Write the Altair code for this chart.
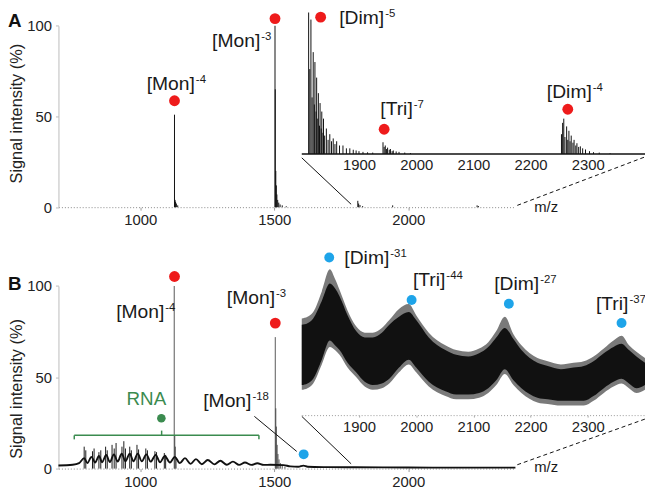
import altair as alt
import pandas as pd

FONT = "Liberation Sans"
RED = "#ee1b1b"
BLUE = "#1ea4e9"
GREEN = "#3b8b4f"
INK = "#111111"

# ---------------- data ----------------
# Panel A, main spectrum (m/z, %)
A_MZ = [1128, 1130, 1132, 1135, 1140, 1503, 1504, 1506, 1508, 1510, 1513, 1517, 1522, 1530, 1545,
        1812, 1815, 1820, 1830, 1942, 2257, 2262]
A_INT = [51, 4, 3, 2, 1, 100, 65, 20, 12, 7, 4, 2.5, 1.5, 1, 0.5,
         3.5, 2, 1.2, 0.6, 1, 1, 0.6]

# Panel A, inset spectrum
AI_MZ = [1812, 1814, 1816, 1818, 1820, 1822, 1823, 1825, 1826, 1828,
         1829, 1831, 1832, 1834, 1835, 1837, 1838, 1840, 1843, 1846,
         1849, 1852, 1855, 1858, 1861, 1866, 1872, 1878, 1884, 1890,
         1895, 1900, 1907, 1915, 1924,
         1942, 1944, 1946, 1948, 1950, 1953, 1955, 1958, 1960, 1965, 1970, 1980, 1990,
         2254, 2256, 2258, 2260, 2263, 2265, 2267, 2269, 2271, 2274,
         2276, 2279, 2281, 2284, 2287, 2291, 2296, 2303, 2310, 2320, 2339]
AI_INT = [100, 60, 95, 40, 72, 35, 65, 30, 54, 25,
          43, 20, 36, 18, 30, 15, 25, 13, 18, 10,
          14, 9, 11, 7, 9, 6, 6, 4, 4, 3,
          2.5, 2, 1.5, 1.2, 1,
          8.3, 5, 6, 3.5, 4.5, 3, 3.5, 2, 2.5, 1.8, 1.5, 1, 0.7,
          14, 22, 25, 12, 19.5, 10, 16.4, 9, 13, 8,
          10, 6, 7.6, 5, 5.4, 4, 3.2, 2, 1.3, 1, 0.5]

# Panel A annotations
A_DOT_MZ = [1128, 1503]
A_DOT_Y = [58.7, 104]
AI_DOT_MZ = [1833, 1944, 2265]
AI_DOT_Y = [96.7, 17.5, 31.6]
A_LAB = ["[Mon]", "[Mon]"]
A_SUP = ["-4", "-3"]
A_LAB_MZ = [1204, 1448]
A_LAB_Y = [64.4, 88.5]
AI_LAB = ["[Dim]", "[Tri]", "[Dim]"]
AI_SUP = ["-5", "-7", "-4"]
AI_LAB_MZ = [1944, 1994, 2307]
AI_LAB_Y = [92, 27.5, 39.6]
# zoom connector segments (main-A coords): x1, y1, x2, y2
A_CON_SOLID = [1603, 27.2, 1787, 1.6]
A_CON_DASH = [2407, 1.0, 2883, 27.7]

# Panel B, main spectrum
B_LAD_MZ = [695, 748, 772, 791, 803, 818, 832, 846, 858, 873,
            887, 902, 916, 931, 945, 961, 975, 991, 1006, 1023,
            1039, 1058, 1074, 1092, 1111, 1129, 1148, 1167, 1188, 1208,
            1230, 1252, 1277, 1299, 1323, 1346, 1369, 1391, 1415, 1437,
            1461, 1486, 1535, 1560, 1590, 1609, 1625, 1700, 1800, 2000,
            2200, 2400]
B_LAD_INT = [1.7, 2.1, 3.0, 5.7, 3.0, 6.4, 3.3, 6.9, 3.5, 7.5,
             3.6, 7.8, 3.8, 8.2, 4.0, 8.2, 4.0, 8.2, 4.0, 7.8,
             3.8, 7.5, 3.5, 6.9, 3.3, 6.4, 3.0, 5.7, 2.6, 5.2,
             2.4, 4.7, 2.3, 4.3, 2.1, 3.8, 2.0, 3.3, 2.0, 2.9,
             2.0, 2.1, 1.9, 1.2, 1.0, 1.6, 1.0, 0.8, 0.7, 0.6,
             0.5, 0.5]
B_SPK_MZ = [791, 797, 822, 828, 846, 853, 871, 877, 895, 903, 910, 932,
            939, 945, 961, 967, 988, 994, 1021, 1027, 1055, 1061, 1090, 1095]
B_SPK_INT = [12, 10, 9.5, 11, 9, 10, 12, 10, 13, 11, 14, 12,
             15, 11, 12, 10, 13, 10.5, 11, 10, 9.5, 9, 8.5, 7.5]
B_PK_MZ = [1127, 1129, 1131, 1134, 1504, 1506, 1508, 1511, 1514, 1518, 1523, 1530, 1540]
B_PK_INT = [100, 18, 12, 6, 72, 33, 23, 13, 8, 5, 3, 2, 1]

# Panel B, inset envelope of the unresolved signal
BI_MZ = [1800, 1810, 1820, 1835, 1849, 1858, 1866, 1880, 1895, 1910,
         1924, 1940, 1953, 1970, 1987, 2000, 2022, 2051, 2070, 2091,
         2110, 2126, 2140, 2155, 2170, 2184, 2212, 2230, 2253, 2275,
         2293, 2310, 2328, 2345, 2359, 2372, 2385, 2400]
BI_TOP = [57, 58, 61, 72, 83, 80, 75, 63, 53, 49,
          49, 52, 57, 62, 65, 60, 49, 41, 38, 37,
          39, 43, 49, 55, 48, 41, 33, 31, 29, 30,
          31, 34, 39, 43, 45, 41, 37, 33]
BI_BOT = [19, 20, 23, 35, 47, 44, 41, 33, 27, 21,
          19, 20, 23, 30, 35, 30, 21, 15, 13, 13,
          14, 17, 22, 29, 22, 17, 11, 10, 9, 9,
          9, 12, 17, 21, 23, 20, 17, 19]
BI_OTOP = [61, 62, 65, 78, 92, 86, 79, 66, 56, 52,
           52, 55, 60, 67, 70, 63, 52, 44, 41, 40,
           42, 46, 53, 62, 51, 44, 36, 34, 32, 33,
           34, 37, 42, 47, 50, 44, 40, 36]
BI_OBOT = [16, 17, 20, 32, 43, 41, 38, 30, 24, 18,
           16, 17, 20, 27, 32, 27, 18, 12, 10, 10,
           11, 14, 19, 26, 19, 14, 8, 7, 6, 6,
           6, 9, 14, 18, 20, 17, 14, 16]

# Panel B annotations
B_RED_MZ = [1128, 1504]
B_RED_Y = [105.2, 79.7]
B_BLUE_MZ = [1610]
B_BLUE_Y = [7.8]
B_GREEN_MZ = [1079]
B_GREEN_Y = [27.6]
B_LAB = ["[Mon]", "[Mon]", "[Mon]"]
B_SUP = ["-4", "-3", "-18"]
B_LAB_MZ = [1090, 1503, 1415]
B_LAB_Y = [82.4, 90.1, 33.5]
BI_DOT_MZ = [1848, 1992, 2162, 2359]
BI_DOT_Y = [99.4, 72.6, 70.2, 58.1]
BI_LAB = ["[Dim]", "[Tri]", "[Dim]", "[Tri]"]
BI_SUP = ["-31", "-44", "-27", "-37"]
BI_LAB_MZ = [1953, 2051, 2215, 2371]
BI_LAB_Y = [95.2, 81.2, 79.2, 66.3]
B_CON_SOLID = [1603, 28.6, 1787, 2.6]
B_CON_DASH = [2407, 2.1, 2883, 27.1]
B_POINTER = [1426, 28.6, 1584, 9.4]
# RNA bracket segments: x1, y1, x2, y2
B_BRACKET = [[754, 18.2, 1443, 18.2], [754, 18.2, 754, 16.0],
             [1443, 18.2, 1443, 16.0], [1080, 18.2, 1080, 20.8]]
RNA_LABEL = ("RNA", 1023, 38)

MAIN_TICKS = [1000, 1500, 2000]
INSET_TICKS = [1900, 2000, 2100, 2200, 2300]
Y_TICKS = [0, 50, 100]

# ---------------- scales (pixel ranges in the plot area) ----------------
W, H = 593, 463
XM = ([695, 2400], [0, 462])
XI = ([1800, 2400], [246, 593])
YA = ([0, 100], [198.72, 15.36])
YAI = ([0, 100], [144.96, 1.92])
YB = ([0, 100], [463, 278.4])
YBI = ([0, 100], [408.96, 248.64])


def S(spec):
    return alt.Scale(domain=spec[0], range=spec[1], nice=False, zero=False)


def enc(ch, xs, ys, xf="x", yf="y", x2=None, y2=None, xaxis=None, yaxis=None, **extra):
    e = {"x": alt.X(f"{xf}:Q", scale=S(xs), axis=xaxis),
         "y": alt.Y(f"{yf}:Q", scale=S(ys), axis=yaxis)}
    if x2:
        e["x2"] = alt.X2(f"{x2}:Q")
    if y2:
        e["y2"] = alt.Y2(f"{y2}:Q")
    e.update(extra)
    return ch.encode(**e)


def sticks(mz, inten):
    return pd.DataFrame({"x": mz, "y": inten, "b": [0] * len(mz)})


def pts(mz, yv):
    return pd.DataFrame({"x": mz, "y": yv})


def segs(rows):
    return pd.DataFrame(rows, columns=["x", "y", "x2", "y2"])


def labels(base, sup, mz, yv):
    return pd.DataFrame({"x": mz, "y": yv, "base": base, "sup": sup})


axis_common = dict(grid=False, title=None, format="d")
ax_A_x = alt.Axis(orient="bottom", offset=YA[1][0] - H, values=MAIN_TICKS, domainDash=[1, 2],
                  domainColor="#888", tickColor="#999", tickSize=3, labelPadding=3, **axis_common)
ax_AI_x = alt.Axis(orient="bottom", offset=YAI[1][0] - H, values=INSET_TICKS, domain=False,
                   ticks=False, labelPadding=4, **axis_common)
ax_B_x = alt.Axis(orient="bottom", offset=0, values=MAIN_TICKS, domainDash=[1, 2],
                  domainColor="#888", tickColor="#999", tickSize=3, labelPadding=3, **axis_common)
ax_BI_x = alt.Axis(orient="bottom", offset=YBI[1][0] - H, values=INSET_TICKS, domainDash=[1, 2],
                   domainColor="#999", tickColor="#aaa", tickSize=2, labelPadding=3, **axis_common)
ax_A_y = alt.Axis(orient="left", values=Y_TICKS, title="Signal intensity (%)", grid=False,
                  domainColor="#bbb", tickColor="#bbb", tickSize=3, labelPadding=4,
                  titlePadding=2, titleY=103.7, format="d")
ax_B_y = alt.Axis(orient="left", values=Y_TICKS, title="Signal intensity (%)", grid=False,
                  domainColor="#bbb", tickColor="#bbb", tickSize=3, labelPadding=4,
                  titlePadding=2, titleY=382, format="d")

layers = []


def label_layers(df, xs, ys):
    base = alt.Chart(df).mark_text(align="right", baseline="alphabetic", fontSize=19.5,
                                   font=FONT, color="#1a1a1a")
    sup = alt.Chart(df).mark_text(align="left", baseline="alphabetic", fontSize=11.5,
                                  font=FONT, color="#1a1a1a", dx=1, dy=-7)
    return [enc(base, xs, ys, text="base:N"), enc(sup, xs, ys, text="sup:N")]


# ---- Panel A ----
layers.append(enc(alt.Chart(sticks(A_MZ, A_INT)).mark_rule(color=INK, strokeWidth=1),
                  XM, YA, y2="b", xaxis=ax_A_x, yaxis=ax_A_y))
layers.append(enc(alt.Chart(segs([[1800, 0, 2400, 0]])).mark_rule(color=INK, strokeWidth=1.6),
                  XI, YAI, x2="x2"))
layers.append(enc(alt.Chart(sticks(AI_MZ, AI_INT)).mark_rule(color=INK, strokeWidth=1),
                  XI, YAI, y2="b", xaxis=ax_AI_x))
layers.append(enc(alt.Chart(segs([A_CON_SOLID])).mark_rule(color=INK, strokeWidth=1),
                  XM, YA, x2="x2", y2="y2"))
layers.append(enc(alt.Chart(segs([A_CON_DASH])).mark_rule(color=INK, strokeWidth=1,
                                                          strokeDash=[4, 3]),
                  XM, YA, x2="x2", y2="y2"))
layers.append(enc(alt.Chart(pts(A_DOT_MZ, A_DOT_Y)).mark_circle(color=RED, opacity=1, size=120),
                  XM, YA))
layers.append(enc(alt.Chart(pts(AI_DOT_MZ, AI_DOT_Y)).mark_circle(color=RED, opacity=1, size=120),
                  XI, YAI))
layers += label_layers(labels(A_LAB, A_SUP, A_LAB_MZ, A_LAB_Y), XM, YA)
layers += label_layers(labels(AI_LAB, AI_SUP, AI_LAB_MZ, AI_LAB_Y), XI, YAI)
layers.append(enc(alt.Chart(pd.DataFrame({"x": [2470], "y": [-2.5], "t": ["m/z"]}))
                  .mark_text(align="left", baseline="alphabetic", fontSize=15, font=FONT,
                             color="#1a1a1a"), XM, YA, text="t:N"))
layers.append(enc(alt.Chart(pd.DataFrame({"x": [507], "y": [102.5], "t": ["A"]}))
                  .mark_text(align="left", baseline="middle", fontSize=19, fontWeight="bold",
                             font=FONT, color="#111"), XM, YA, text="t:N"))

# ---- Panel B ----
bi = pd.DataFrame({"x": BI_MZ, "top": BI_TOP, "bot": BI_BOT, "otop": BI_OTOP, "obot": BI_OBOT})
layers.append(enc(alt.Chart(bi).mark_area(color="#7a7a7a", opacity=1, interpolate="monotone"),
                  XI, YBI, yf="otop", y2="obot", xaxis=ax_BI_x))
layers.append(enc(alt.Chart(bi).mark_area(color=INK, opacity=1, interpolate="monotone"),
                  XI, YBI, yf="top", y2="bot"))
layers.append(enc(alt.Chart(sticks(B_SPK_MZ, B_SPK_INT)).mark_rule(color="#1a1a1a", strokeWidth=1),
                  XM, YB, y2="b"))
layers.append(enc(alt.Chart(sticks(B_PK_MZ, B_PK_INT)).mark_rule(color="#444", strokeWidth=0.9),
                  XM, YB, y2="b"))
layers.append(enc(alt.Chart(pts(B_LAD_MZ, B_LAD_INT)).mark_line(color=INK, strokeWidth=1.9,
                                                                interpolate="monotone"),
                  XM, YB, xaxis=ax_B_x, yaxis=ax_B_y))
layers.append(enc(alt.Chart(segs(B_BRACKET)).mark_rule(color=GREEN, strokeWidth=1.5),
                  XM, YB, x2="x2", y2="y2"))
layers.append(enc(alt.Chart(segs([B_CON_SOLID, B_POINTER])).mark_rule(color=INK, strokeWidth=1),
                  XM, YB, x2="x2", y2="y2"))
layers.append(enc(alt.Chart(segs([B_CON_DASH])).mark_rule(color=INK, strokeWidth=1,
                                                          strokeDash=[4, 3]),
                  XM, YB, x2="x2", y2="y2"))
layers.append(enc(alt.Chart(pts(B_RED_MZ, B_RED_Y)).mark_circle(color=RED, opacity=1, size=120),
                  XM, YB))
layers.append(enc(alt.Chart(pts(B_BLUE_MZ, B_BLUE_Y)).mark_circle(color=BLUE, opacity=1, size=100),
                  XM, YB))
layers.append(enc(alt.Chart(pts(B_GREEN_MZ, B_GREEN_Y)).mark_circle(color=GREEN, opacity=1, size=75),
                  XM, YB))
layers.append(enc(alt.Chart(pts(BI_DOT_MZ, BI_DOT_Y)).mark_circle(color=BLUE, opacity=1, size=100),
                  XI, YBI))
layers += label_layers(labels(B_LAB, B_SUP, B_LAB_MZ, B_LAB_Y), XM, YB)
layers += label_layers(labels(BI_LAB, BI_SUP, BI_LAB_MZ, BI_LAB_Y), XI, YBI)
layers.append(enc(alt.Chart(pd.DataFrame({"x": [RNA_LABEL[1]], "y": [RNA_LABEL[2]],
                                          "t": [RNA_LABEL[0]]}))
                  .mark_text(align="center", baseline="middle", fontSize=19, font=FONT,
                             color=GREEN), XM, YB, text="t:N"))
layers.append(enc(alt.Chart(pd.DataFrame({"x": [2470], "y": [-1.8], "t": ["m/z"]}))
                  .mark_text(align="left", baseline="alphabetic", fontSize=15, font=FONT,
                             color="#1a1a1a"), XM, YB, text="t:N"))
layers.append(enc(alt.Chart(pd.DataFrame({"x": [507], "y": [101], "t": ["B"]}))
                  .mark_text(align="left", baseline="middle", fontSize=19, fontWeight="bold",
                             font=FONT, color="#111"), XM, YB, text="t:N"))

chart = (
    alt.layer(*layers)
    .resolve_scale(x="independent", y="independent")
    .properties(width=W, height=H,
                autosize=alt.AutoSizeParams(type="none"),
                padding={"left": 51, "top": 0, "right": 0, "bottom": 18})
    .configure_view(stroke=None)
    .configure_axis(labelFont=FONT, titleFont=FONT, labelFontSize=15, titleFontSize=16.5,
                    titleFontWeight="normal", labelColor="#222", titleColor="#222")
)

chart.save("out.html", embed_options={"renderer": "svg", "actions": False})
